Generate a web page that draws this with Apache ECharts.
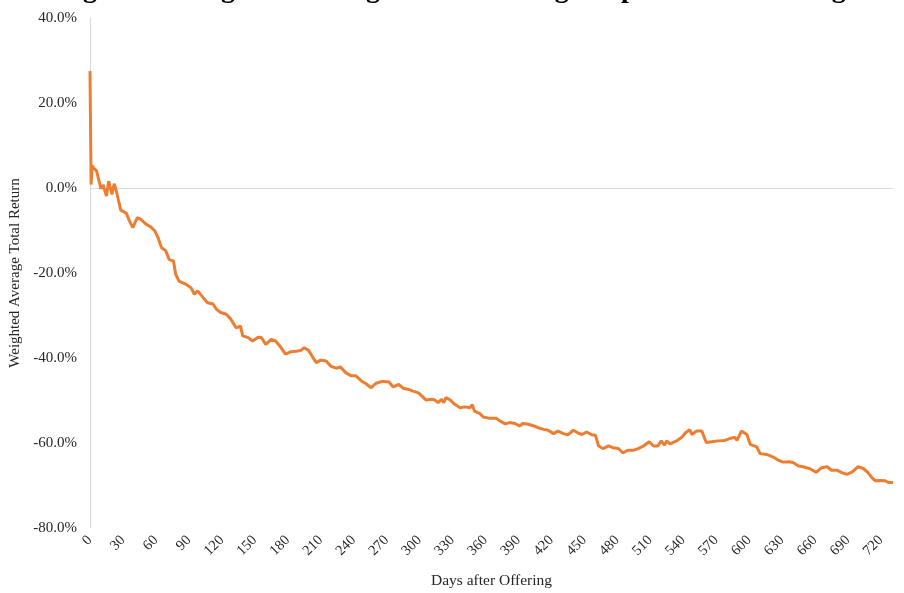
<!DOCTYPE html>
<html>
<head>
<meta charset="utf-8">
<script src="https://cdn.jsdelivr.net/npm/echarts@6/dist/echarts.min.js"></script>
<style>
html,body{margin:0;padding:0;background:#fff;width:100%;height:100%;overflow:hidden;}
#chart{width:100%;height:100%;}
</style>
</head>
<body>
<div id="chart"></div>
<script>
var titleText = 'Figure 3: Weighted Average Return to Regs Capital Underwriting';
var xAxisName = 'Days after Offering';
var yAxisName = 'Weighted Average Total Return';
var seriesName = 'Weighted Average Total Return';

var days = [0,1,2,3,6,10,12,15,17,20,22,24,26,28,33,36,39,43,46,51,56,59,62,65,69,72,76,78,81,87,92,95,98,103,107,112,115,119,124,128,133,137,139,144,148,153,156,160,165,169,174,178,183,188,192,195,199,203,206,210,215,219,224,228,233,238,242,247,251,256,260,266,269,272,276,281,285,290,294,299,302,306,311,314,317,320,322,324,328,332,337,341,346,348,350,355,358,364,370,373,378,382,387,391,394,399,404,408,413,417,422,426,431,435,440,444,448,452,457,460,463,467,472,476,481,485,490,495,499,504,509,513,517,520,523,525,528,534,539,542,546,548,552,557,561,566,572,578,583,587,589,593,598,601,607,610,616,622,627,631,636,640,645,649,655,661,666,671,675,680,684,689,694,699,704,708,712,715,719,724,727,731];

var returns = [27.5,0.8,5.3,4.8,4.0,-0.2,0.7,-1.9,1.6,-1.5,1.0,-0.7,-3.0,-5.2,-5.9,-7.8,-9.3,-7.0,-7.3,-8.5,-9.3,-10.1,-11.7,-14.0,-14.8,-16.8,-17.2,-20.3,-21.9,-22.6,-23.5,-25.0,-24.2,-25.8,-27.0,-27.3,-28.5,-29.3,-29.7,-30.8,-32.9,-32.5,-34.8,-35.2,-36.0,-35.1,-35.2,-36.8,-35.6,-36.0,-37.6,-39.1,-38.5,-38.4,-38.2,-37.6,-38.2,-39.9,-41.1,-40.5,-40.7,-41.9,-42.4,-42.1,-43.5,-44.2,-44.2,-45.4,-46.0,-47.0,-46.0,-45.5,-45.6,-45.6,-46.8,-46.2,-47.1,-47.4,-47.8,-48.2,-48.9,-49.9,-49.7,-49.9,-50.5,-49.7,-50.5,-49.3,-49.9,-50.9,-51.7,-51.5,-51.7,-51.0,-52.5,-53.1,-53.9,-54.2,-54.2,-54.8,-55.5,-55.2,-55.4,-56.0,-55.4,-55.6,-56.0,-56.4,-56.8,-57.0,-57.8,-57.2,-57.8,-58.1,-57.0,-57.6,-58.0,-57.4,-58.1,-58.1,-60.7,-61.3,-60.7,-61.1,-61.3,-62.3,-61.7,-61.7,-61.3,-60.7,-59.7,-60.7,-60.7,-59.5,-60.5,-59.5,-60.2,-59.5,-58.6,-57.6,-56.9,-58.0,-57.2,-57.2,-59.9,-59.7,-59.5,-59.4,-58.9,-58.7,-59.4,-57.2,-58.0,-60.3,-60.9,-62.5,-62.7,-63.3,-64.1,-64.5,-64.4,-64.6,-65.4,-65.6,-66.0,-66.9,-65.8,-65.6,-66.4,-66.4,-66.9,-67.4,-66.8,-65.6,-66.0,-66.9,-68.2,-68.9,-68.8,-68.9,-69.3,-69.3];

var yMin = -80, yMax = 40, yStep = 20;
var xMin = 0, xMax = 731, xStep = 30;

var chart = echarts.init(document.getElementById('chart'), null, {renderer: 'canvas'});
var fontFam = '"Liberation Serif", "DejaVu Serif", serif';
var pairs = days.map(function (d, i) { return [d, returns[i]]; });

chart.setOption({
  animation: false,
  backgroundColor: '#ffffff',
  graphic: [{
    type: 'text',
    left: 'center',
    top: -24,
    style: {
      text: titleText,
      font: 'bold 28px ' + fontFam,
      fill: '#000000'
    }
  }],
  grid: {left: 90, right: 11, top: 18, bottom: 65, containLabel: false, outerBoundsMode: 'none'},
  xAxis: {
    type: 'value',
    min: xMin, max: xMax, interval: xStep,
    name: xAxisName,
    nameLocation: 'middle',
    nameGap: 45,
    nameTextStyle: {color: '#262626', fontSize: 15.5, fontFamily: fontFam},
    axisLine: {show: false},
    axisTick: {show: false},
    splitLine: {show: false},
    axisLabel: {
      rotate: 45, margin: 10, color: '#262626', fontSize: 14.5, fontFamily: fontFam,
      showMaxLabel: false
    }
  },
  yAxis: {
    type: 'value',
    min: yMin, max: yMax, interval: yStep,
    name: yAxisName,
    nameLocation: 'middle',
    nameGap: 63,
    nameTextStyle: {color: '#262626', fontSize: 15, fontFamily: fontFam},
    axisLine: {show: true, lineStyle: {color: '#d9d9d9', width: 1}},
    axisTick: {show: false},
    splitLine: {show: false},
    axisLabel: {
      margin: 13, color: '#262626', fontSize: 15, fontFamily: fontFam,
      formatter: function (v) { return v.toFixed(1) + '%'; }
    }
  },
  series: [{
    name: seriesName,
    type: 'line',
    data: pairs,
    showSymbol: false,
    symbol: 'none',
    lineStyle: {color: '#ED7D31', width: 3},
    itemStyle: {color: '#ED7D31'},
    z: 3,
    markLine: {
      silent: true,
      symbol: 'none',
      label: {show: false},
      lineStyle: {color: '#d9d9d9', width: 1, type: 'solid'},
      data: [{yAxis: 0}],
      z: 1
    }
  }]
});
</script>
</body>
</html>
